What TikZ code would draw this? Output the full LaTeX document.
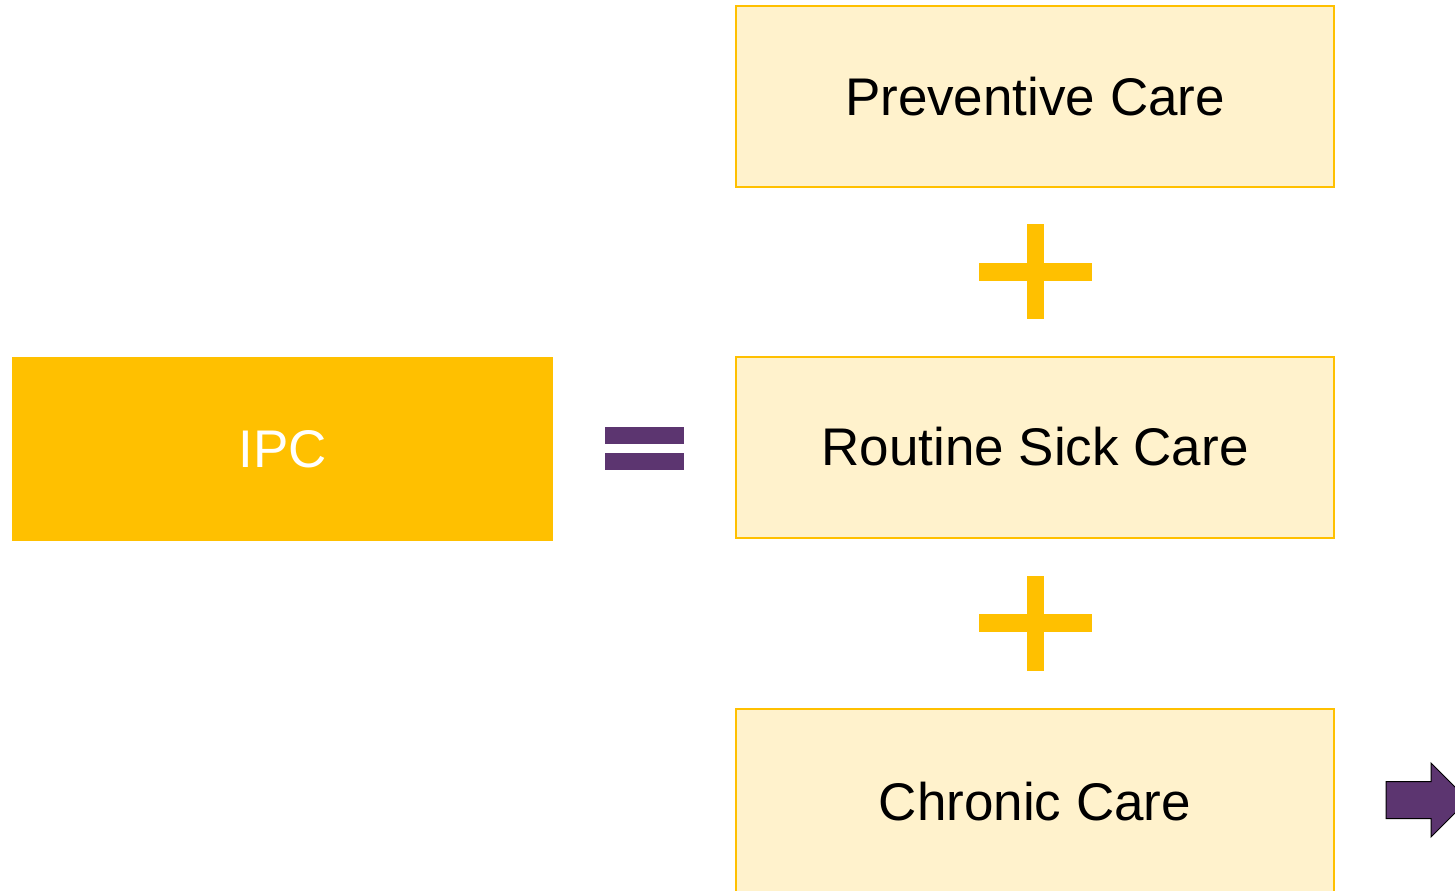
\documentclass[tikz,border=0pt]{standalone}
\usepackage{fontspec}
\setmainfont{Liberation Sans}
\usepackage{xcolor}
\usepackage{tikz}
\usetikzlibrary{calc}
\definecolor{ipcgold}{HTML}{FFC000}
\definecolor{carefill}{HTML}{FFF2CC}
\definecolor{eqpurple}{HTML}{5C3570}
\tikzstyle{carebox}=[draw=ipcgold,line width=1pt,fill=carefill,minimum width=299pt,minimum height=90.5pt,font=\fontsize{26.5}{32}\selectfont]
\tikzstyle{ipcbox}=[fill=ipcgold,minimum width=270.5pt,minimum height=92pt,text=white,font=\fontsize{26.5}{32}\selectfont]
\tikzstyle{plusbar}=[fill=ipcgold]
\tikzstyle{eqbar}=[fill=eqpurple]
\tikzstyle{nextarrow}=[fill=eqpurple,draw=black,line width=.5pt,line join=miter]
\newcommand\plusmark[1]{%
  \fill[plusbar] ($(#1)+(-8.5,-47.5)$) rectangle ($(#1)+(8.5,47.5)$);
  \fill[plusbar] ($(#1)+(-56.5,-9)$) rectangle ($(#1)+(56.5,9)$);}
\begin{document}
\begin{tikzpicture}[x=0.5pt,y=-0.5pt]
	\useasboundingbox (0,0) rectangle (1455,890);
	\node[ipcbox]  (ipc)   at (282.5,449)  {IPC};
	\node[carebox] (prev)  at (1035,96.5)  {Preventive Care};
	\node[carebox] (rout)  at (1035,447)   {Routine Sick Care};
	\node[carebox,minimum height=93pt] (chron) at (1035,802) {Chronic Care};
	% plus signs between the boxes
	\coordinate (plusA) at ($(prev.south)!.5!(rout.north)$);
	\coordinate (plusB) at ($(rout.south)!.5!(chron.north)$);
	\plusmark{plusA}
	\plusmark{plusB}
	% equal sign
	\coordinate (eq) at ($(ipc.east)!.5!(rout.west)$);
	\fill[eqbar] ($(eq)+(-39.5,-21.5)$) rectangle ($(eq)+(39.5,-4.5)$);
	\fill[eqbar] ($(eq)+(-39.5,4.5)$) rectangle ($(eq)+(39.5,21.5)$);
	% arrow to the right
	\coordinate (go) at ($(chron.east)+(51,-2)$);
	\draw[nextarrow] ($(go)+(0,-18.5)$) -- ++(45,0) -- ++(0,-18.5) -- ($(go)+(82,0)$)
	  -- ($(go)+(45,37)$) -- ++(0,-18.5) -- ($(go)+(0,18.5)$) -- cycle;
\end{tikzpicture}
\end{document}
